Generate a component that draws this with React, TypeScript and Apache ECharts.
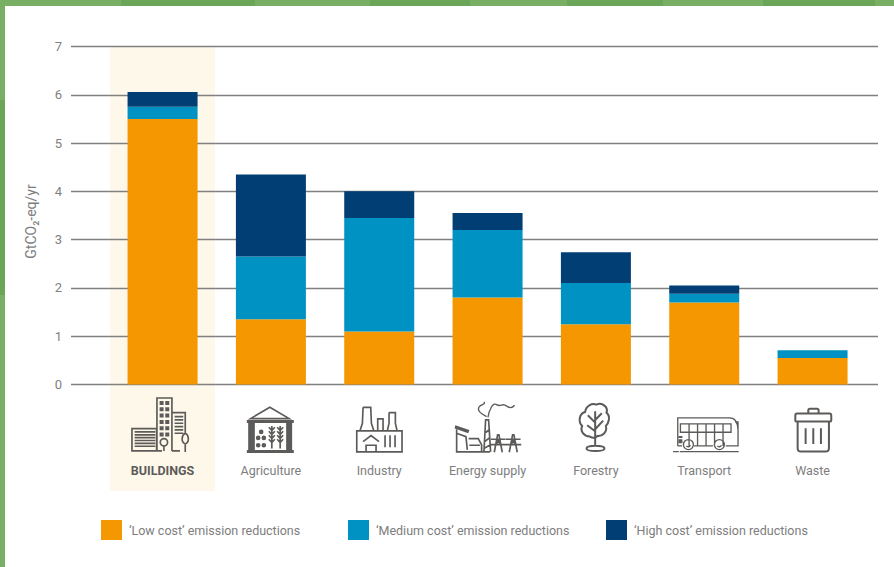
import React, { useEffect, useRef } from "react";
import * as echarts from "echarts";

const categories = ["BUILDINGS", "Agriculture", "Industry", "Energy supply", "Forestry", "Transport", "Waste"];
const lowCost = [5.5, 1.35, 1.1, 1.8, 1.25, 1.7, 0.55];
const mediumCost = [0.25, 1.3, 2.35, 1.4, 0.85, 0.18, 0.16];
const mediumCostNegative = [0, 0, 0, -0.04, 0, -0.04, 0];
const highCost = [0.31, 1.7, 0.55, 0.35, 0.64, 0.17, 0];
const seriesNames = ["\u2018Low cost\u2019 emission reductions", "\u2018Medium cost\u2019 emission reductions", "\u2018High cost\u2019 emission reductions"];
const colors = ["#F49700", "#0092C2", "#003E73"];
const legendLefts = [101, 348, 606];
const yTicks = { min: 0, max: 7, interval: 1 };

const FONT = "Roboto, 'Noto Sans', sans-serif";
const GREY = "#7d7d7d";
const ICON = "#5c5b59";

const greenLight = "#78AF65";
const greenDark = "#6BA658";
const topBands: [number, number, string][] = [
  [0, 121, greenLight], [121, 255, greenDark], [255, 370, greenLight], [370, 470, greenDark],
  [470, 567, greenLight], [567, 663, greenDark], [663, 763, greenLight], [763, 875, greenDark], [875, 894, greenLight],
];
const leftBands: [number, number, string][] = [[0, 100, greenLight], [100, 295, greenDark], [295, 567, greenLight]];

// Icon outlines, drawn at 3x and scaled down by 1/3
const rect = (x: number, y: number, w: number, h: number) => `M${x} ${y}L${x + w} ${y}L${x + w} ${y + h}L${x} ${y + h}Z`;
const circ = (cx: number, cy: number, r: number) => `M${cx - r} ${cy}A${r} ${r} 0 1 1 ${cx + r} ${cy}A${r} ${r} 0 1 1 ${cx - r} ${cy}Z`;
const hl = (x1: number, x2: number, y: number) => `M${x1} ${y}L${x2} ${y}`;
const vl = (x: number, y1: number, y2: number) => `M${x} ${y1}L${x} ${y2}`;
const many = (n: number, f: (i: number) => string) => Array.from({ length: n }, (_, i) => f(i)).join("");

const wheat = (x: number) =>
  vl(x, 168, 236) + many(4, (i) => `M${x - 9} ${172 + i * 12}L${x} ${182 + i * 12}L${x + 9} ${172 + i * 12}`);
const pylon = (x: number) =>
  `M${x - 12} 247L${x - 2} 195L${x + 2} 195L${x + 12} 247` + hl(x - 22, x + 22, 208) + hl(x - 24, x + 24, 224) + `M${x - 8} 224L${x + 6} 208M${x + 8} 224L${x - 6} 208`;

const icons: { name: string; x: number; y: number; stroke: string; w: number; fill?: string }[] = [
  {
    name: "buildings", x: 100, y: 370, w: 5,
    stroke:
      rect(96, 176, 74, 67) + many(6, (i) => hl(104, 166, 186 + i * 8.6)) +
      `M171 243L171 84L216 84L216 243` + `M216 128L256 128L256 190` + many(6, (i) => hl(224, 250, 140 + i * 10)) + hl(216, 240, 243) +
      circ(192, 217, 11) + vl(192, 228, 243) +
      `M256 190C244 196 243 218 256 222C269 218 268 196 256 190Z` + vl(256, 222, 246) + hl(96, 186, 243),
    fill: many(6, (r) => rect(179, 93 + r * 19, 12, 12) + rect(196, 93 + r * 19, 12, 12)),
  },
  {
    name: "agriculture", x: 100, y: 370, w: 5,
    stroke: `M452 146L510 112L568 146Z` + wheat(516) + wheat(541),
    fill:
      rect(441, 150, 141, 9) + rect(445, 159, 20, 82) + rect(559, 159, 18, 82) + rect(441, 240, 141, 9) +
      circ(484, 186, 7) + circ(475, 204, 7) + circ(492, 204, 7) + circ(475, 226, 7) + circ(492, 226, 7),
  },
  {
    name: "industry", x: 100, y: 370, w: 5,
    stroke:
      rect(771, 183, 136, 63) + `M790 112L813 112L815 160L822 182M790 112L788 160L781 182` +
      `M834 182L834 147L850 147L850 182` + `M868 128L887 128L887 160L892 182M868 128L868 160L863 182` +
      `M790 215L814 197L838 215` + rect(799, 226, 30, 20) + vl(856, 196, 232) + vl(871, 196, 232) + vl(886, 196, 232),
  },
  {
    name: "energy", x: 430, y: 370, w: 5,
    stroke:
      `M80 178L80 246L180 246M80 190L108 200L112 240` + `M116 206L145 206L155 225L155 246M118 226L150 226` +
      `M162 246L167 150L176 150L182 246M164 190L180 178M163 216L181 202M162 236L182 224` +
      pylon(205) + pylon(250),
    fill: `M76 166L118 180L115 190L74 176Z`,
  },
  {
    name: "energySmoke", x: 430, y: 370, w: 4,
    stroke:
      `M170 140C152 130 140 122 148 110C154 102 168 104 162 96` +
      `M174 142C178 120 188 96 200 104C212 112 216 100 226 106C236 112 244 118 254 106`,
  },
  {
    name: "forestry", x: 430, y: 370, w: 6,
    stroke:
      `M480 200C462 198 450 184 457 168C444 156 448 130 466 126C468 108 486 98 500 104C518 96 536 112 530 128C544 140 536 160 528 168C534 186 516 200 503 198C496 205 488 205 480 200Z` +
      `M496 124L496 228M496 158L474 136M496 178L520 152M496 184L472 166M496 150L516 130` +
      `M470 236C470 225 524 225 524 236C524 246 470 246 470 236Z`,
  },
  {
    name: "transport", x: 430, y: 370, w: 4,
    stroke:
      `M744 228L744 144L900 144C918 144 924 158 925 180L925 228L888 228M850 228L793 228M757 228L744 228` +
      rect(752, 162, 152, 25) + many(5, (i) => vl(778 + i * 25.5, 162, 187)) + many(5, (i) => vl(778 + i * 25.5, 187, 228)) +
      circ(776, 224, 15) + circ(869, 224, 15) + `M770 228A7 7 0 0 0 782 226M863 228A7 7 0 0 0 875 226` + `M916 156L925 156L925 190`,
    fill: rect(730, 243, 17, 4) + rect(750, 243, 177, 4) + rect(746, 198, 12, 6) + rect(746, 208, 12, 12),
  },
  {
    name: "waste", x: 430, y: 370, w: 6,
    stroke:
      `M1102 131L1200 131C1204 131 1205 135 1205 138L1205 151C1205 153 1204 155 1200 155L1102 155C1098 155 1097 153 1097 151L1097 138C1097 135 1098 131 1102 131Z` +
      `M1136 131L1136 121C1136 118 1138 116 1141 116L1162 116C1165 116 1167 118 1167 121L1167 131` +
      `M1104 155L1104 234C1104 241 1108 245 1114 245L1188 245C1194 245 1198 241 1198 234L1198 155` +
      vl(1128, 175, 222) + vl(1151, 175, 222) + vl(1174, 175, 222),
  },
];

export default function App() {
  const ref = useRef<HTMLDivElement>(null);
  useEffect(() => {
    document.body.style.margin = "0";
    document.body.style.background = "#fff";
    const graphics: any[] = [
      { type: "rect", z: -1, shape: { x: 110, y: 47, width: 105, height: 444 }, style: { fill: "#FEF8EB" } },
      ...topBands.map(([a, b, c]) => ({ type: "rect", z: 5, shape: { x: a, y: 0, width: b - a, height: 6 }, style: { fill: c } })),
      ...leftBands.map(([a, b, c]) => ({ type: "rect", z: 5, shape: { x: 0, y: a, width: 5, height: b - a }, style: { fill: c } })),
    ];
    icons.forEach((ic) => {
      if (ic.stroke) {
        const n = "ic-s-" + ic.name;
        echarts.graphic.registerShape(n, echarts.graphic.extendPath(ic.stroke, {}));
        graphics.push({ type: n, x: ic.x, y: ic.y, scaleX: 1 / 3, scaleY: 1 / 3, style: { fill: "none", stroke: ICON, lineWidth: ic.w } });
      }
      if (ic.fill) {
        const n = "ic-f-" + ic.name;
        echarts.graphic.registerShape(n, echarts.graphic.extendPath(ic.fill, {}));
        graphics.push({ type: n, x: ic.x, y: ic.y, scaleX: 1 / 3, scaleY: 1 / 3, style: { fill: ICON, stroke: "none" } });
      }
    });

    const chart = echarts.init(ref.current!, null, { renderer: "svg" });
    const barBase = { type: "bar", stack: "total", barWidth: 70, xAxisIndex: 1, yAxisIndex: 1, silent: true };
    chart.setOption({
      animation: false,
      backgroundColor: "#fff",
      textStyle: { fontFamily: FONT },
      graphic: { elements: graphics },
      grid: [
        { left: 71, width: 807, top: 46.5, height: 338 },
        { left: 108.4, width: 758.33, top: 46.5, height: 338 },
      ],
      legend: seriesNames.map((name, i) => ({
        data: [name],
        left: legendLefts[i],
        top: 520,
        padding: 0,
        itemWidth: 21,
        itemHeight: 20,
        itemGap: 0,
        selectedMode: false,
        icon: "rect",
        textStyle: { color: GREY, fontSize: 12.5, fontFamily: FONT, padding: [0, 0, 0, 2] },
      })),
      xAxis: [
        { gridIndex: 0, type: "value", min: 0, max: 1, show: false },
        {
          gridIndex: 1,
          type: "category",
          data: categories.map((c, i) => (i === 0 ? { value: c, textStyle: { fontWeight: "bold", color: "#5c5b59" } } : c)),
          axisLine: { show: false },
          axisTick: { show: false },
          axisLabel: { color: GREY, fontSize: 12.5, fontFamily: FONT, margin: 79, interval: 0 },
        },
      ],
      yAxis: [
        {
          gridIndex: 0,
          type: "value",
          ...yTicks,
          name: "GtCO\u2082-eq/yr",
          nameLocation: "middle",
          nameRotate: 90,
          nameGap: 33,
          nameTextStyle: { color: GREY, fontSize: 14, fontFamily: FONT, padding: [0, 12, 0, 0] },
          axisLine: { show: false },
          axisTick: { show: false },
          axisLabel: { color: "#808080", fontSize: 13, fontFamily: FONT, margin: 9 },
          splitLine: { show: true, lineStyle: { color: "#808080", width: 1.3 } },
        },
        { gridIndex: 1, type: "value", ...yTicks, show: false, splitLine: { show: false } },
      ],
      series: [
        { ...barBase, name: seriesNames[0], data: lowCost, itemStyle: { color: colors[0] } },
        { ...barBase, name: seriesNames[1], data: mediumCost, itemStyle: { color: colors[1] } },
        { ...barBase, name: seriesNames[1], data: mediumCostNegative, itemStyle: { color: colors[1] } },
        { ...barBase, name: seriesNames[2], data: highCost, itemStyle: { color: colors[2] } },
      ],
    });
    return () => chart.dispose();
  }, []);
  return <div ref={ref} style={{ width: 894, height: 567 }} />;
}
